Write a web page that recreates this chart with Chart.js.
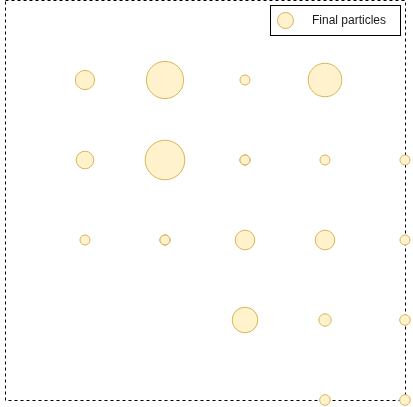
<!DOCTYPE html>
<html>
<head>
<meta charset="utf-8">
<script src="https://cdn.jsdelivr.net/npm/chart.js@4/dist/chart.umd.min.js"></script>
<style>
  html, body { margin: 0; padding: 0; background: #ffffff; }
  #wrap { width: 413px; height: 407px; position: relative; }
</style>
</head>
<body>
<div id="wrap"><canvas id="c"></canvas></div>
<script>
// Particle positions (grid units) and radii (px)
const seriesLabel = "Final particles";
const particleX = [1, 2, 3, 4,   1, 2, 3, 3, 3, 4, 5,   1, 2, 2, 2, 3, 4, 5,   3, 4, 5,   4, 5];
const particleY = [4, 4, 4, 4,   3, 3, 3, 3, 3, 3, 3,   2, 2, 2, 2, 2, 2, 2,   1, 1, 1,   0, 0];
const particleR = [9.6, 18.6, 5, 16.8,   8.8, 19.8, 5, 5, 5, 5, 5,   5, 5, 5, 5, 9.8, 9.8, 5,   12.8, 6.2, 5.3,   5.3, 5.3];
const xRange = [0, 5];
const yRange = [0, 5];

const points = particleX.map((x, i) => ({ x: x, y: particleY[i], r: particleR[i] }));

const frameAndLegend = {
  id: 'frameAndLegend',
  beforeDatasetsDraw(chart) {
    const a = chart.chartArea;
    const ctx = chart.ctx;
    ctx.save();
    ctx.strokeStyle = '#000000';
    ctx.lineWidth = 1;
    ctx.setLineDash([3, 3]);
    ctx.strokeRect(Math.round(a.left) + 0.5, Math.round(a.top) + 0.5,
                   Math.round(a.right - a.left), Math.round(a.bottom - a.top));
    ctx.restore();
  },
  afterDraw(chart) {
    const ctx = chart.ctx;
    const ds = chart.data.datasets[0];
    ctx.save();
    ctx.setLineDash([]);
    ctx.fillStyle = '#ffffff';
    ctx.fillRect(270.5, 5.5, 130, 30);
    ctx.strokeStyle = '#000000';
    ctx.lineWidth = 1;
    ctx.strokeRect(270.5, 5.5, 130, 30);
    ctx.beginPath();
    ctx.arc(285.5, 20.5, 8, 0, Math.PI * 2);
    ctx.fillStyle = ds.backgroundColor;
    ctx.fill();
    ctx.strokeStyle = ds.borderColor;
    ctx.stroke();
    ctx.fillStyle = '#1a1a1a';
    ctx.font = '12px "Liberation Sans", Arial, sans-serif';
    ctx.textBaseline = 'middle';
    ctx.textAlign = 'left';
    ctx.fillText(ds.label, 312, 21);
    ctx.restore();
  }
};

new Chart(document.getElementById('c'), {
  type: 'bubble',
  data: {
    datasets: [{
      label: seriesLabel,
      data: points,
      backgroundColor: '#fff2cc',
      borderColor: '#d6b656',
      borderWidth: 1,
      hoverRadius: 0,
      clip: false
    }]
  },
  options: {
    responsive: true,
    maintainAspectRatio: false,
    animation: false,
    events: [],
    layout: { autoPadding: false, padding: { left: 5, right: 8, top: 0, bottom: 7 } },
    scales: {
      x: { type: 'linear', min: xRange[0], max: xRange[1], display: false },
      y: { type: 'linear', min: yRange[0], max: yRange[1], display: false }
    },
    plugins: {
      legend: { display: false },
      tooltip: { enabled: false }
    }
  },
  plugins: [frameAndLegend]
});
</script>
</body>
</html>
